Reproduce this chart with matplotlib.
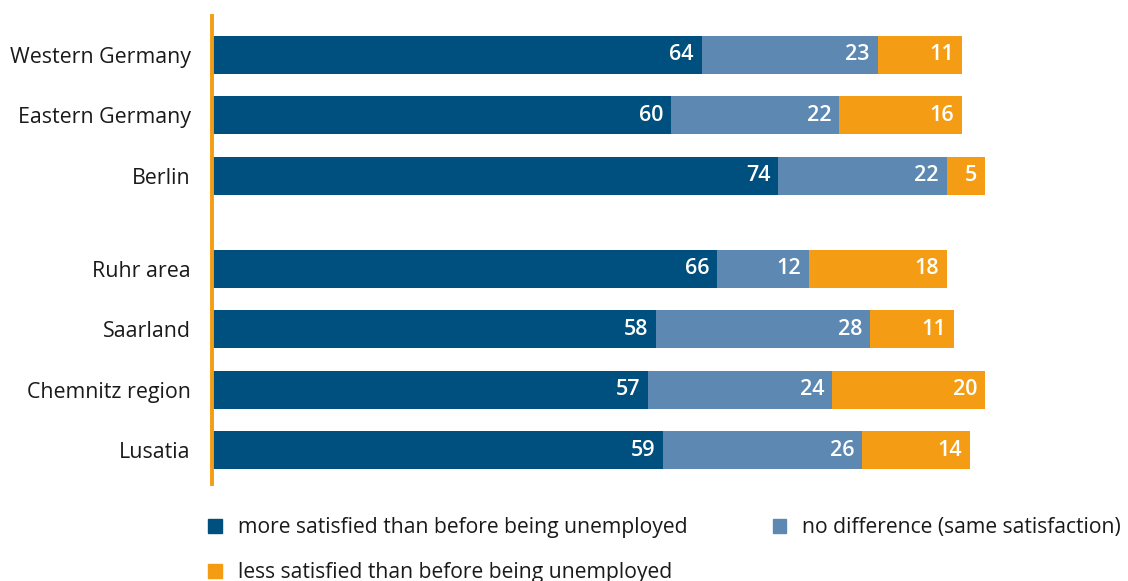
import matplotlib
matplotlib.use("Agg")
import matplotlib.pyplot as plt
from matplotlib.patches import Patch

regions = ["Western Germany", "Eastern Germany", "Berlin",
           "Ruhr area", "Saarland", "Chemnitz region", "Lusatia"]
more_satisfied = [64, 60, 74, 66, 58, 57, 59]
no_difference = [23, 22, 22, 12, 28, 24, 26]
less_satisfied = [11, 16, 5, 18, 11, 20, 14]
series_names = ["more satisfied than before being unemployed",
                "no difference (same satisfaction)",
                "less satisfied than before being unemployed"]

C_DARK = "#00507f"
C_MID = "#5d88b2"
C_ORANGE = "#f49d14"

plt.rcParams["font.family"] = ["Open Sans", "DejaVu Sans"]

# rows: three large areas, a gap, then four regions
ypos = [0, 1, 2, 3.54, 4.54, 5.54, 6.54]

fig = plt.figure(figsize=(11.28, 5.81), dpi=100)
ax = fig.add_axes([0.1875, 0.167, 0.8125, 0.8055])

h = 0.63
series = [more_satisfied, no_difference, less_satisfied]
colors = [C_DARK, C_MID, C_ORANGE]
left = [0] * len(regions)
for vals, col in zip(series, colors):
    ax.barh(ypos, vals, left=left, height=h, color=col, zorder=2)
    for y, l, v in zip(ypos, left, vals):
        ax.text(l + v - 1.0, y, str(v), ha="right", va="center",
                color="white", fontsize=15.5, fontweight="semibold", zorder=3)
    left = [a + b_ for a, b_ in zip(left, vals)]

ax.set_xlim(0, 119.7)
ax.set_ylim(7.1, -0.64)
ax.set_yticks(ypos)
ax.set_yticklabels(regions, fontsize=15.4, color="#1a1a1a")
ax.tick_params(axis="y", length=0, pad=15)
ax.set_xticks([])
for s in ["top", "right", "bottom"]:
    ax.spines[s].set_visible(False)
ax.spines["left"].set_color(C_ORANGE)
ax.spines["left"].set_linewidth(2.8)

handles = [Patch(color=C_DARK), Patch(color=C_ORANGE), Patch(color=C_MID)]
labels = [series_names[0], series_names[2], series_names[1]]
fig.legend(handles, labels, ncol=2, loc="upper left",
           bbox_to_anchor=(208 / 1128, 1 - 517 / 581), frameon=False,
           borderpad=0, borderaxespad=0,
           fontsize=15.2, handlelength=0.65, handleheight=0.65,
           handletextpad=0.75, columnspacing=4.05, labelspacing=1.15,
           labelcolor="#1a1a1a")

fig.savefig("out.png", dpi=100)
